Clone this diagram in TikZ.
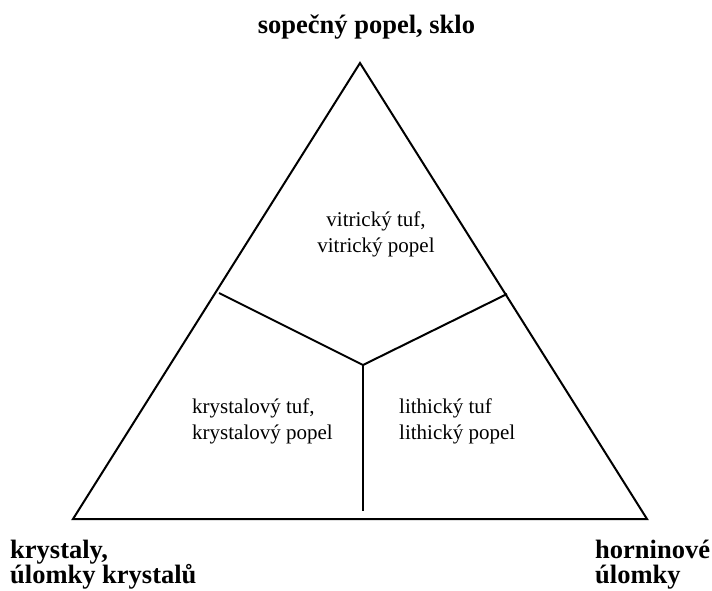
\documentclass[tikz,border=0pt]{standalone}
\usepackage{fontspec}
\setmainfont{Liberation Serif}
\usetikzlibrary{calc, positioning}
\tikzset{
x=1pt, y=-1pt,
boundary/.style={
	line width=2pt,
	line join=miter,
},
divider/.style={
	line width=2pt,
},
pole/.style={
	font=\fontsize{26.5}{25}\selectfont\bfseries,
	inner sep=0pt,
	align=left,
},
field/.style={
	font=\fontsize{21}{25.5}\selectfont,
	inner sep=0pt,
},
}

\begin{document}
\begin{tikzpicture}
		\useasboundingbox (0,0) rectangle (712,590);
		% Corners
		\coordinate (Glass) at (360,63);
		\coordinate (Crystal) at (73,519);
		\coordinate (Lithic) at (647,519);
		% Inner points
		\coordinate (Mid) at (363,365);
		\coordinate (MidL) at (219,293);
		\coordinate (MidR) at (507,294);
		\coordinate (MidB) at (363,511);

		% Triangle
		\draw[boundary] (Glass) -- (Crystal) -- (Lithic) -- cycle;

		% Fields
		\draw[divider] (MidL) -- (Mid);
		\draw[divider] (MidR) -- (Mid);
		\draw[divider] (Mid) -- (MidB);

		% Pole labels
		\node[pole, anchor=base] (GlassL) at (366.5,33) {sopečný popel, sklo};
		\node[pole, anchor=base west] (CrystalL) at (10,583) {krystaly,\\úlomky krystalů};
		\node[pole, anchor=base west] (LithicL) at (595,583) {horninové\\úlomky};

		% Field labels
		\node[field, align=center, anchor=base] (Vitric) at (376,252) {vitrický tuf,\\vitrický popel};
		\node[field, align=left, anchor=base west] (Crystalline) at (192,439) {krystalový tuf,\\krystalový popel};
		\node[field, align=left, anchor=base west] (Lithical) at (399,439) {lithický tuf\\lithický popel};
	\end{tikzpicture}
\end{document}
